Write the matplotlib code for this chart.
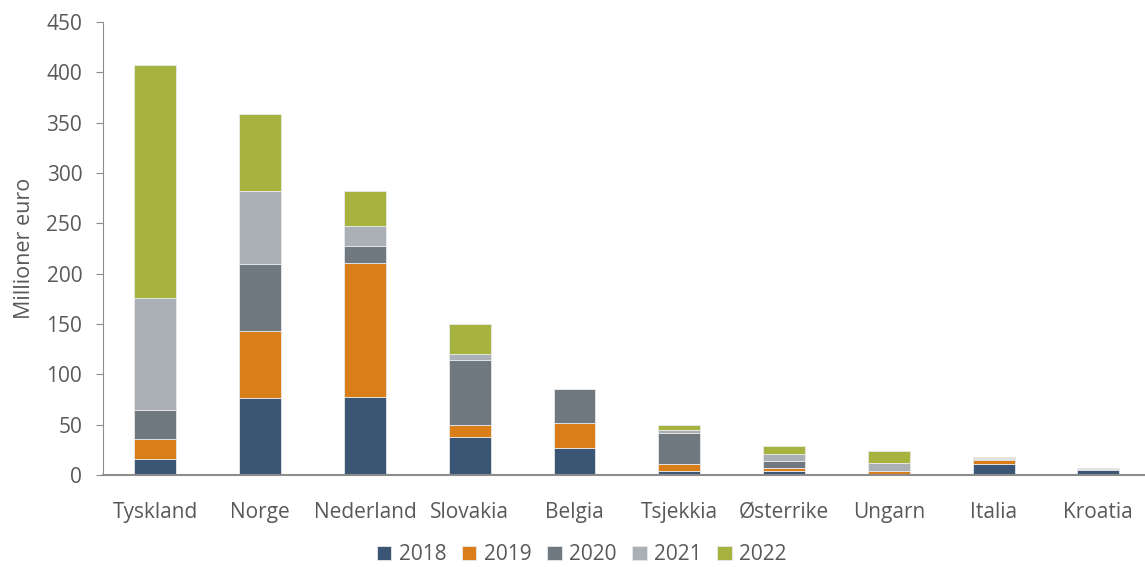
import numpy as np
import matplotlib.pyplot as plt

countries = ["Tyskland", "Norge", "Nederland", "Slovakia", "Belgia",
             "Tsjekkia", "Østerrike", "Ungarn", "Italia", "Kroatia"]
years = ["2018", "2019", "2020", "2021", "2022"]

v2018 = [16, 77, 78, 38, 27, 4.5, 4.5, 0, 11, 5]
v2019 = [20, 66, 133, 12, 25, 6.5, 2.5, 4, 4, 0.5]
v2020 = [29, 67, 17, 64, 34, 31, 7.5, 0, 1, 0.5]
v2021 = [111, 72, 19, 6, 0, 3, 7, 8, 1, 1]
v2022 = [231, 77, 35, 30, 0, 4.5, 7.5, 12, 1.5, 0]

colors = ["#3A5674", "#D97E18", "#717980", "#AAB0B6", "#A6B43F"]
text_col = "#595959"

plt.rcParams["font.family"] = ["Open Sans", "DejaVu Sans"]

fig = plt.figure(figsize=(11.45, 5.67), dpi=100)
ax = fig.add_axes([0.09, 0.162, 0.915, 0.799])

x = np.arange(len(countries))
bottom = np.zeros(len(countries))
for year, vals, c in zip(years, [v2018, v2019, v2020, v2021, v2022], colors):
    vals = np.array(vals, dtype=float)
    ax.bar(x, vals, 0.4, bottom=bottom, color=c, label=year,
           edgecolor="#E8E8E8", linewidth=0.6)
    bottom += vals

ax.set_xlim(-0.5, 9.5)
ax.set_ylim(0, 450)
ax.set_yticks(range(0, 451, 50))
ax.set_xticks(x)
ax.set_xticklabels(countries)
ax.set_ylabel("Millioner euro", fontsize=15.5, color=text_col, labelpad=8)

for s in ["top", "right"]:
    ax.spines[s].set_visible(False)
ax.spines["left"].set_color("#8C8C8C")
ax.spines["bottom"].set_color("#8C8C8C")
ax.spines["bottom"].set_linewidth(1.5)
ax.tick_params(axis="y", colors="#8C8C8C", labelcolor=text_col, labelsize=15,
               length=5, pad=10)
ax.tick_params(axis="x", length=0, labelcolor=text_col, labelsize=15, pad=19)

fig.legend(loc="lower center", bbox_to_anchor=(0.508, -0.004), ncol=5,
           frameon=False, borderaxespad=0, borderpad=0.2,
           fontsize=15, labelcolor=text_col, handlelength=0.7, handleheight=0.7,
           handletextpad=0.35, columnspacing=0.75)

fig.savefig("out.png", dpi=100)
